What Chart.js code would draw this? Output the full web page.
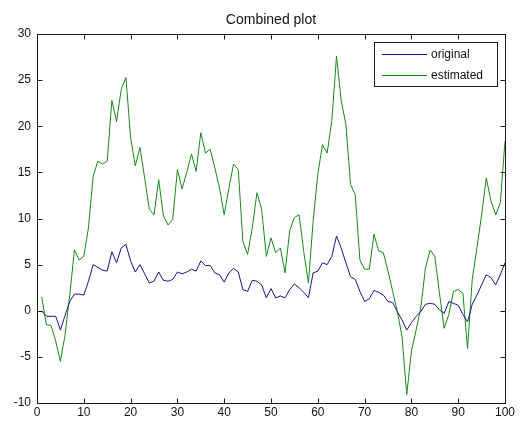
<!DOCTYPE html>
<html>
<head>
<meta charset="utf-8">
<title>Combined plot</title>
<script src="https://cdn.jsdelivr.net/npm/chart.js@4/dist/chart.umd.min.js"></script>
<style>
  html, body { margin: 0; padding: 0; background: #ffffff; }
  #wrap { width: 520px; height: 421px; position: relative; }
</style>
</head>
<body>
<div id="wrap"><canvas id="c" width="520" height="421"></canvas></div>
<script>
// Sample index 1..100
const sampleIndex = Array.from({ length: 100 }, (_, i) => i + 1);

const originalValues = [
  0.0, -0.6, -0.6, -0.6, -2.1, -0.5, 1.0, 1.8, 1.8, 1.7,
  3.2, 5.0, 4.7, 4.4, 4.3, 6.4, 5.2, 6.8, 7.2, 5.4,
  4.2, 5.0, 4.0, 3.0, 3.2, 4.2, 3.3, 3.2, 3.4, 4.2,
  4.0, 4.2, 4.5, 4.3, 5.4, 4.9, 4.9, 4.1, 3.9, 3.1,
  4.1, 4.6, 4.2, 2.3, 2.1, 3.3, 3.2, 2.8, 1.4, 2.4,
  1.4, 1.6, 1.4, 2.3, 2.9, 2.5, 2.0, 1.4, 4.1, 4.3,
  5.2, 5.0, 5.9, 8.1, 6.8, 5.2, 3.7, 3.4, 2.1, 1.0,
  1.3, 2.2, 2.0, 1.7, 1.0, 0.9, -0.1, -1.0, -2.1, -1.3,
  -0.6, -0.1, 0.7, 0.8, 0.7, 0.1, -0.3, 1.0, 0.8, 0.6,
  -0.4, -1.2, 0.7, 1.7, 2.8, 3.9, 3.6, 2.8, 3.9, 5.2
];

const estimatedValues = [
  1.5, -1.5, -1.6, -3.3, -5.5, -2.6, 1.7, 6.6, 5.5, 5.9,
  9.0, 14.6, 16.2, 15.9, 16.2, 22.8, 20.5, 24.0, 25.3, 18.8,
  15.7, 17.7, 14.4, 11.0, 10.4, 14.2, 10.3, 9.3, 9.9, 15.3,
  13.2, 15.0, 17.0, 15.1, 19.3, 17.1, 17.5, 15.5, 13.3, 10.4,
  13.3, 15.9, 15.3, 7.5, 6.1, 9.0, 12.8, 11.0, 5.9, 7.9,
  6.3, 6.8, 4.1, 8.7, 10.1, 10.4, 6.4, 3.0, 9.7, 14.8,
  18.0, 17.1, 20.6, 27.6, 22.8, 20.2, 13.7, 12.6, 5.5, 4.5,
  4.5, 8.3, 6.5, 6.3, 4.3, 2.1, -0.1, -2.8, -9.1, -4.4,
  -2.1, 0.3, 4.6, 6.6, 5.9, 1.9, -1.9, -0.4, 2.1, 2.3,
  1.9, -4.1, 3.4, 6.8, 10.4, 14.4, 11.9, 10.4, 11.7, 18.4
];

const seriesLabels = ['original', 'estimated'];
const xTicks = [0, 10, 20, 30, 40, 50, 60, 70, 80, 90, 100];
const yTicks = [-10, -5, 0, 5, 10, 15, 20, 25, 30];
const titleText = 'Combined plot';

const BLUE = '#14148f';
const GREEN = '#168a16';
const FONT = '"Liberation Sans", Arial, sans-serif';

function toPoints(vals) {
  return vals.map((v, i) => ({ x: sampleIndex[i], y: v }));
}

// Axes box, inward ticks on all four sides, title and legend
const framePlugin = {
  id: 'frame',
  afterDraw(chart) {
    const { ctx, chartArea: a, scales } = chart;
    const L = Math.round(a.left) + 0.5, R = Math.round(a.right) + 0.5;
    const T = Math.round(a.top) + 0.5, B = Math.round(a.bottom) + 0.5;
    const tick = 5;
    ctx.save();
    ctx.strokeStyle = '#1a1a1a';
    ctx.lineWidth = 1;
    ctx.strokeRect(L, T, R - L, B - T);
    ctx.beginPath();
    xTicks.forEach(v => {
      const px = Math.round(scales.x.getPixelForValue(v)) + 0.5;
      ctx.moveTo(px, B); ctx.lineTo(px, B - tick);
      ctx.moveTo(px, T); ctx.lineTo(px, T + tick);
    });
    yTicks.forEach(v => {
      const py = Math.round(scales.y.getPixelForValue(v)) + 0.5;
      ctx.moveTo(L, py); ctx.lineTo(L + tick, py);
      ctx.moveTo(R, py); ctx.lineTo(R - tick, py);
    });
    ctx.stroke();

    // title
    ctx.fillStyle = '#111';
    ctx.font = '14px ' + FONT;
    ctx.textAlign = 'center';
    ctx.textBaseline = 'middle';
    ctx.fillText(titleText, (a.left + a.right) / 2, 20.5);

    // legend
    const bx = 374.5, by = 42.5, bw = 123, bh = 44;
    ctx.fillStyle = '#ffffff';
    ctx.fillRect(bx, by, bw, bh);
    ctx.strokeStyle = '#1a1a1a';
    ctx.strokeRect(bx, by, bw, bh);
    const colors = [BLUE, GREEN];
    const rows = [54.5, 75.5];
    ctx.font = '12px ' + FONT;
    ctx.textAlign = 'left';
    seriesLabels.forEach((lab, i) => {
      ctx.strokeStyle = colors[i];
      ctx.beginPath();
      ctx.moveTo(382, rows[i]); ctx.lineTo(427, rows[i]);
      ctx.stroke();
      ctx.fillStyle = '#111';
      ctx.fillText(lab, 431, rows[i]);
    });
    ctx.restore();
  }
};

new Chart(document.getElementById('c'), {
  type: 'line',
  data: {
    datasets: [
      { label: seriesLabels[0], data: toPoints(originalValues), borderColor: BLUE },
      { label: seriesLabels[1], data: toPoints(estimatedValues), borderColor: GREEN }
    ]
  },
  options: {
    responsive: false,
    animation: false,
    devicePixelRatio: 1,
    layout: { padding: { top: 34, right: 15, left: 0, bottom: 0 } },
    elements: {
      line: { borderWidth: 1, tension: 0, fill: false },
      point: { radius: 0 }
    },
    plugins: {
      legend: { display: false },
      title: { display: false },
      tooltip: { enabled: false }
    },
    scales: {
      x: {
        type: 'linear',
        min: 0, max: 100,
        afterFit(s) { s.height = 18; },
        afterBuildTicks(s) { s.ticks = xTicks.map(v => ({ value: v })); },
        grid: { display: false, drawTicks: false },
        border: { display: false },
        ticks: { color: '#111', font: { size: 12, family: FONT }, padding: 2, maxRotation: 0, autoSkip: false }
      },
      y: {
        type: 'linear',
        min: -10, max: 30,
        afterFit(s) { s.width = 37; },
        afterBuildTicks(s) { s.ticks = yTicks.map(v => ({ value: v })); },
        grid: { display: false, drawTicks: false },
        border: { display: false },
        ticks: { color: '#111', font: { size: 12, family: FONT }, padding: 6, autoSkip: false }
      }
    }
  },
  plugins: [framePlugin]
});
</script>
</body>
</html>
